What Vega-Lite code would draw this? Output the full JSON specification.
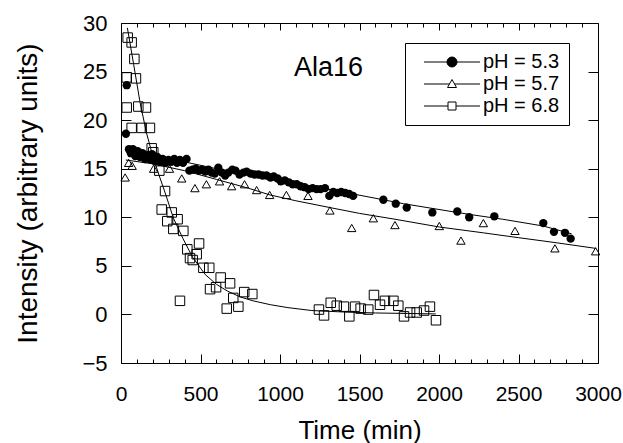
{
  "$schema": "https://vega.github.io/schema/vega-lite/v6.json",
  "width": 477,
  "height": 340,
  "autosize": {"type": "none"},
  "padding": {"left": 121, "top": 23, "right": 25, "bottom": 80},
  "background": "white",
  "config": {
    "view": {"stroke": "black", "strokeWidth": 1},
    "font": "Liberation Sans",
    "axis": {"domain": false, "grid": false, "tickColor": "black", "tickWidth": 1, "labelColor": "black", "titleColor": "black", "labelFont": "Liberation Sans", "titleFont": "Liberation Sans", "titleFontWeight": "normal", "labelFlush": false, "labelOverlap": false}
  },
  "datasets": {
    "c53": [
      {"t":36,"v":23.6},{"t":31,"v":18.6},{"t":50,"v":17.0},{"t":62,"v":16.6},{"t":75,"v":17.0},{"t":90,"v":16.3},{"t":105,"v":16.8},{"t":120,"v":16.2},{"t":135,"v":16.6},{"t":150,"v":16.0},{"t":165,"v":16.4},{"t":180,"v":16.0},{"t":195,"v":16.5},{"t":212,"v":15.8},{"t":228,"v":16.2},{"t":245,"v":15.7},{"t":262,"v":16.0},{"t":280,"v":15.6},{"t":298,"v":15.9},{"t":315,"v":15.7},{"t":335,"v":16.0},{"t":352,"v":15.6},{"t":370,"v":15.9},{"t":390,"v":15.6},{"t":412,"v":16.0},{"t":430,"v":14.8},{"t":450,"v":14.9},{"t":470,"v":15.0},{"t":490,"v":14.8},{"t":510,"v":14.9},{"t":530,"v":14.7},{"t":550,"v":14.9},{"t":570,"v":14.6},{"t":590,"v":14.5},{"t":612,"v":15.1},{"t":635,"v":14.6},{"t":655,"v":14.3},{"t":675,"v":14.6},{"t":700,"v":14.9},{"t":720,"v":14.8},{"t":745,"v":14.4},{"t":770,"v":14.6},{"t":790,"v":14.7},{"t":815,"v":14.5},{"t":840,"v":14.4},{"t":865,"v":14.4},{"t":890,"v":14.3},{"t":915,"v":14.3},{"t":940,"v":14.1},{"t":960,"v":14.2},{"t":985,"v":14.0},{"t":1005,"v":13.7},{"t":1030,"v":13.8},{"t":1055,"v":13.6},{"t":1080,"v":13.4},{"t":1105,"v":13.4},{"t":1130,"v":13.2},{"t":1155,"v":13.1},{"t":1180,"v":12.9},{"t":1205,"v":13.0},{"t":1230,"v":12.9},{"t":1255,"v":12.9},{"t":1283,"v":13.0},{"t":1310,"v":12.2},{"t":1335,"v":12.6},{"t":1360,"v":12.5},{"t":1385,"v":12.6},{"t":1410,"v":12.5},{"t":1435,"v":12.4},{"t":1460,"v":12.2},{"t":1650,"v":11.8},{"t":1728,"v":11.4},{"t":1797,"v":11.0},{"t":1958,"v":10.5},{"t":2115,"v":10.6},{"t":2190,"v":10.0},{"t":2348,"v":10.1},{"t":2656,"v":9.4},{"t":2723,"v":8.5},{"t":2792,"v":8.4},{"t":2828,"v":7.8}
    ],
    "t57": [
      {"t":26,"v":14.1},{"t":48,"v":15.6},{"t":70,"v":15.3},{"t":205,"v":15.0},{"t":305,"v":15.0},{"t":382,"v":14.0},{"t":465,"v":13.0},{"t":537,"v":13.4},{"t":620,"v":13.7},{"t":696,"v":13.2},{"t":777,"v":13.4},{"t":853,"v":12.8},{"t":935,"v":12.3},{"t":1040,"v":12.3},{"t":1176,"v":12.2},{"t":1314,"v":10.7},{"t":1451,"v":8.9},{"t":1587,"v":9.9},{"t":1723,"v":9.2},{"t":2002,"v":9.1},{"t":2138,"v":7.6},{"t":2279,"v":9.4},{"t":2478,"v":8.6},{"t":2729,"v":6.8},{"t":2985,"v":6.5}
    ],
    "s68": [
      {"t":42,"v":28.5},{"t":67,"v":28.0},{"t":84,"v":26.3},{"t":36,"v":24.4},{"t":94,"v":24.3},{"t":36,"v":21.3},{"t":109,"v":21.4},{"t":157,"v":21.3},{"t":67,"v":19.2},{"t":130,"v":19.2},{"t":182,"v":19.2},{"t":193,"v":17.1},{"t":203,"v":16.7},{"t":241,"v":14.8},{"t":277,"v":12.7},{"t":256,"v":10.8},{"t":319,"v":10.5},{"t":291,"v":9.6},{"t":356,"v":9.8},{"t":329,"v":8.8},{"t":392,"v":8.6},{"t":491,"v":7.3},{"t":417,"v":6.7},{"t":476,"v":6.2},{"t":434,"v":5.8},{"t":451,"v":5.6},{"t":518,"v":4.8},{"t":555,"v":4.8},{"t":371,"v":1.4},{"t":560,"v":2.6},{"t":598,"v":2.8},{"t":627,"v":3.8},{"t":686,"v":3.2},{"t":665,"v":0.6},{"t":738,"v":0.8},{"t":706,"v":1.7},{"t":775,"v":2.3},{"t":826,"v":2.1},{"t":1245,"v":0.5},{"t":1277,"v":-0.1},{"t":1319,"v":1.2},{"t":1357,"v":0.9},{"t":1402,"v":0.8},{"t":1436,"v":-0.2},{"t":1472,"v":0.8},{"t":1507,"v":0.6},{"t":1555,"v":0.5},{"t":1591,"v":2.0},{"t":1629,"v":1.0},{"t":1660,"v":1.4},{"t":1713,"v":1.4},{"t":1744,"v":0.9},{"t":1780,"v":-0.2},{"t":1818,"v":0.2},{"t":1860,"v":0.2},{"t":1906,"v":0.4},{"t":1943,"v":0.8},{"t":1981,"v":-0.6}
    ],
    "fit": [
      {"series":"pH = 5.3","t":30,"v":17.0},{"series":"pH = 5.3","t":200,"v":16.3},{"series":"pH = 5.3","t":400,"v":15.7},{"series":"pH = 5.3","t":600,"v":15.0},{"series":"pH = 5.3","t":800,"v":14.4},{"series":"pH = 5.3","t":1000,"v":13.8},{"series":"pH = 5.3","t":1200,"v":13.2},{"series":"pH = 5.3","t":1460,"v":12.4},{"series":"pH = 5.3","t":1777,"v":11.4},{"series":"pH = 5.3","t":2000,"v":10.8},{"series":"pH = 5.3","t":2190,"v":10.3},{"series":"pH = 5.3","t":2400,"v":9.8},{"series":"pH = 5.3","t":2656,"v":9.1},{"series":"pH = 5.3","t":2834,"v":8.3},
      {"series":"pH = 5.7","t":30,"v":15.9},{"series":"pH = 5.7","t":200,"v":15.5},{"series":"pH = 5.7","t":400,"v":14.8},{"series":"pH = 5.7","t":600,"v":13.9},{"series":"pH = 5.7","t":800,"v":13.0},{"series":"pH = 5.7","t":937,"v":12.3},{"series":"pH = 5.7","t":1100,"v":11.7},{"series":"pH = 5.7","t":1314,"v":11.0},{"series":"pH = 5.7","t":1500,"v":10.4},{"series":"pH = 5.7","t":1723,"v":9.8},{"series":"pH = 5.7","t":2002,"v":9.0},{"series":"pH = 5.7","t":2279,"v":8.4},{"series":"pH = 5.7","t":2500,"v":7.9},{"series":"pH = 5.7","t":2729,"v":7.4},{"series":"pH = 5.7","t":2985,"v":6.8},
      {"series":"pH = 6.8","t":40,"v":29.5},{"series":"pH = 6.8","t":80,"v":25.7},{"series":"pH = 6.8","t":120,"v":21.8},{"series":"pH = 6.8","t":160,"v":18.7},{"series":"pH = 6.8","t":200,"v":16.3},{"series":"pH = 6.8","t":240,"v":14.3},{"series":"pH = 6.8","t":280,"v":12.4},{"series":"pH = 6.8","t":330,"v":9.9},{"series":"pH = 6.8","t":390,"v":7.8},{"series":"pH = 6.8","t":450,"v":5.9},{"series":"pH = 6.8","t":530,"v":4.1},{"series":"pH = 6.8","t":600,"v":3.1},{"series":"pH = 6.8","t":670,"v":2.4},{"series":"pH = 6.8","t":750,"v":1.8},{"series":"pH = 6.8","t":830,"v":1.4},{"series":"pH = 6.8","t":940,"v":1.0},{"series":"pH = 6.8","t":1050,"v":0.7},{"series":"pH = 6.8","t":1200,"v":0.4},{"series":"pH = 6.8","t":1400,"v":0.25},{"series":"pH = 6.8","t":1600,"v":0.15},{"series":"pH = 6.8","t":1800,"v":0.1},{"series":"pH = 6.8","t":1980,"v":0.05}
    ],
    "note": [{"t":1305,"v":25.4,"label":"Ala16"}]
  },
  "resolve": {"axis": {"x": "independent", "y": "independent"}},
  "layer": [
    {
      "data": {"name": "fit"},
      "mark": {"type": "line", "color": "black", "strokeWidth": 1},
      "encoding": {
        "x": {"field": "t", "type": "quantitative", "scale": {"domain": [0, 3000], "nice": false, "zero": false},
              "axis": {"orient": "top", "values": [100,200,300,400,600,700,800,900,1100,1200,1300,1400,1600,1700,1800,1900,2100,2200,2300,2400,2600,2700,2800,2900], "tickSize": -4, "labels": false, "title": null}},
        "y": {"field": "v", "type": "quantitative", "scale": {"domain": [-5, 30], "nice": false, "zero": false}, "axis": null},
        "color": {"field": "series", "type": "nominal", "scale": {"domain": ["pH = 5.3", "pH = 5.7", "pH = 6.8"], "range": ["black", "black", "black"]},
          "legend": {
            "orient": "none", "legendX": 284, "legendY": 20, "title": null,
            "strokeColor": "black", "fillColor": "white", "padding": 9,
            "symbolSize": 100, "labelFontSize": 20, "labelFont": "Liberation Sans", "labelColor": "black",
            "labelOffset": 49, "rowPadding": 2,
            "encode": {
              "symbols": {"update": {
                "shape": {"signal": "datum.value === 'pH = 5.3' ? 'M0,0H4.6M6.6,0H11.2M4.6,0A1,1 0 1,0 6.6,0A1,1 0 1,0 4.6,0Z' : datum.value === 'pH = 5.7' ? 'M0,0H5.1M6.1,0H11.2M5.6,-0.9L6.5,0.7L4.7,0.7Z' : 'M0,0H4.8M6.4,0H11.2M4.8,-0.8H6.4V0.8H4.8Z'"},
                "fill": {"signal": "datum.value === 'pH = 5.3' ? 'black' : 'transparent'"},
                "stroke": {"value": "black"},
                "strokeWidth": {"value": 1},
                "strokeDash": {"value": []},
                "size": {"value": 100},
                "opacity": {"value": 1}
              }}
            }
          }
        }
      }
    },
    {
      "data": {"name": "c53"},
      "mark": {"type": "point", "shape": "circle", "filled": true, "color": "black", "size": 70, "opacity": 1},
      "encoding": {
        "x": {"field": "t", "type": "quantitative",
              "axis": {"orient": "bottom", "values": [0,500,1000,1500,2000,2500,3000], "format": "d", "tickSize": -9, "labelFontSize": 21, "labelPadding": 29, "title": "Time (min)", "titleFontSize": 26, "titleY": 75, "titleBaseline": "alphabetic"}},
        "y": {"field": "v", "type": "quantitative",
              "axis": {"orient": "left", "values": [-5,0,5,10,15,20,25,30], "format": "d", "tickSize": -10, "labelFontSize": 22, "labelPadding": 24, "title": "Intensity (arbitrary units)", "titleFontSize": 28, "titleX": -85, "titleBaseline": "alphabetic"}}
      }
    },
    {
      "data": {"name": "t57"},
      "mark": {"type": "point", "shape": "triangle-up", "filled": false, "color": "black", "size": 70, "strokeWidth": 1, "opacity": 1},
      "encoding": {
        "x": {"field": "t", "type": "quantitative",
              "axis": {"orient": "bottom", "values": [100,200,300,400,600,700,800,900,1100,1200,1300,1400,1600,1700,1800,1900,2100,2200,2300,2400,2600,2700,2800,2900], "tickSize": -4, "labels": false, "title": null}},
        "y": {"field": "v", "type": "quantitative",
              "axis": {"orient": "right", "values": [-5,0,5,10,15,20,25,30], "tickSize": -10, "labels": false, "title": null}}
      }
    },
    {
      "data": {"name": "s68"},
      "mark": {"type": "point", "shape": "square", "filled": false, "color": "black", "size": 90, "strokeWidth": 1, "opacity": 1},
      "encoding": {
        "x": {"field": "t", "type": "quantitative",
              "axis": {"orient": "top", "values": [0,500,1000,1500,2000,2500,3000], "tickSize": -7, "labels": false, "title": null}},
        "y": {"field": "v", "type": "quantitative", "axis": null}
      }
    },
    {
      "data": {"name": "note"},
      "mark": {"type": "text", "font": "Liberation Sans", "fontSize": 27, "color": "black", "align": "center", "baseline": "middle"},
      "encoding": {
        "x": {"field": "t", "type": "quantitative", "axis": null},
        "y": {"field": "v", "type": "quantitative", "axis": null},
        "text": {"field": "label"}
      }
    }
  ]
}
